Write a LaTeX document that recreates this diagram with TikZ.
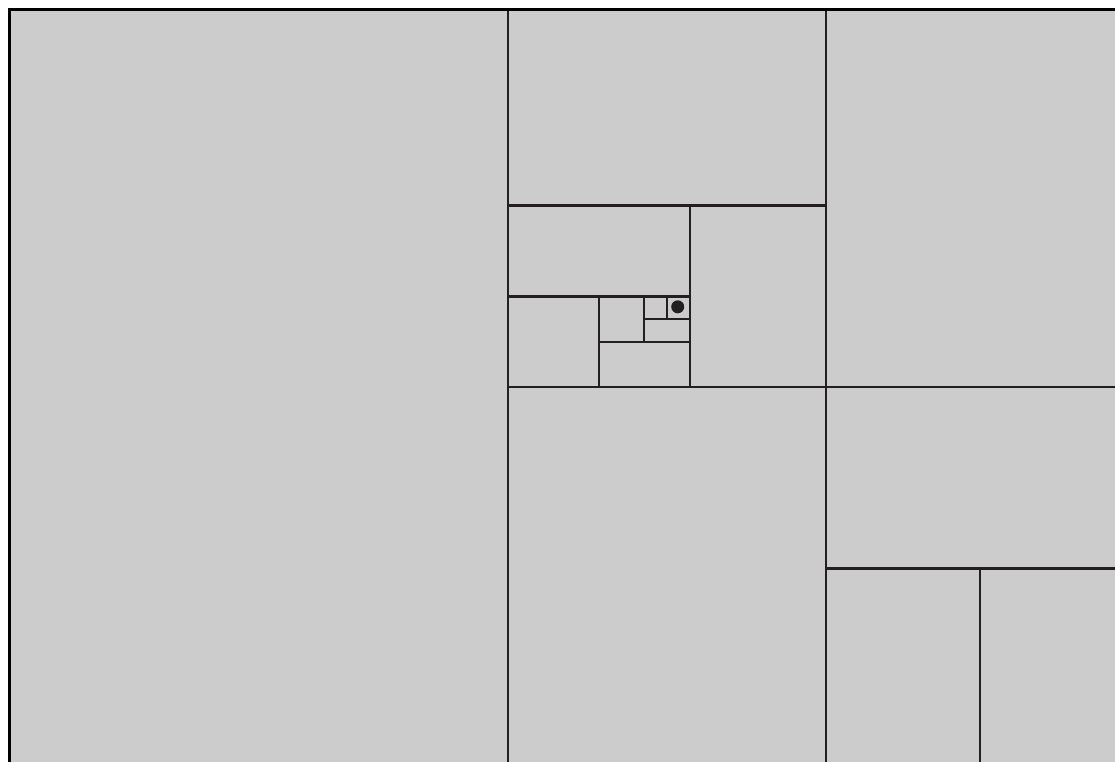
\documentclass[tikz,border=0pt]{standalone}
\usepackage{tikz}
\usetikzlibrary{calc,positioning}

\definecolor{tilegray}{HTML}{CCCCCC}
\definecolor{edgeink}{HTML}{231F20}

\tikzset{
  cut/.style={draw=edgeink, line width=2.2pt},
  cutmain/.style={draw=edgeink, line width=3pt},
  frame/.style={draw=black, line width=3pt},
  eye/.style={fill=edgeink, draw=none}
}

\begin{document}
\begin{tikzpicture}[x=1pt, y=-1pt]
      \useasboundingbox (0,0) rectangle (1115,761) ;
      \clip (0,0) rectangle (1115,761) ;

      % background tile
      \fill[tilegray] (9.5,9.5) rectangle (1120,770) ;

      % corner points of the squares
      \coordinate (tl) at (9.5,9.5) ;
      \coordinate (a) at (508,9.5) ;
      \coordinate (b) at (826,9.5) ;
      \coordinate (abot) at (508,770) ;
      \coordinate (bbot) at (826,770) ;

      % thin cuts
      \path[cut]
      (a) -- (abot)
      (b) -- (bbot)
      (690,205.5) -- (690,387)
      (599,296) -- (599,387)
      (644,296) -- (644,342)
      (667,296) -- (667,319)
      (980,568) -- (980,770)
      (508,387) -- (1120,387)
      (599,342) -- (690,342)
      (644,319) -- (690,319)
      ;

      % heavier cuts
      \path[cutmain]
      (508,205.5) -- (826,205.5)
      (508,296) -- (690,296)
      (826,568) -- (1120,568)
      ;

      % outer frame, top and left only
      \path[frame] (9.5,770) -- (tl) -- (1120,9.5) ;

      % the eye of the spiral
      \node[eye, circle, minimum size=13pt, inner sep=0pt] (dot) at (677.7,306.8) {} ;

    \end{tikzpicture}
\end{document}
